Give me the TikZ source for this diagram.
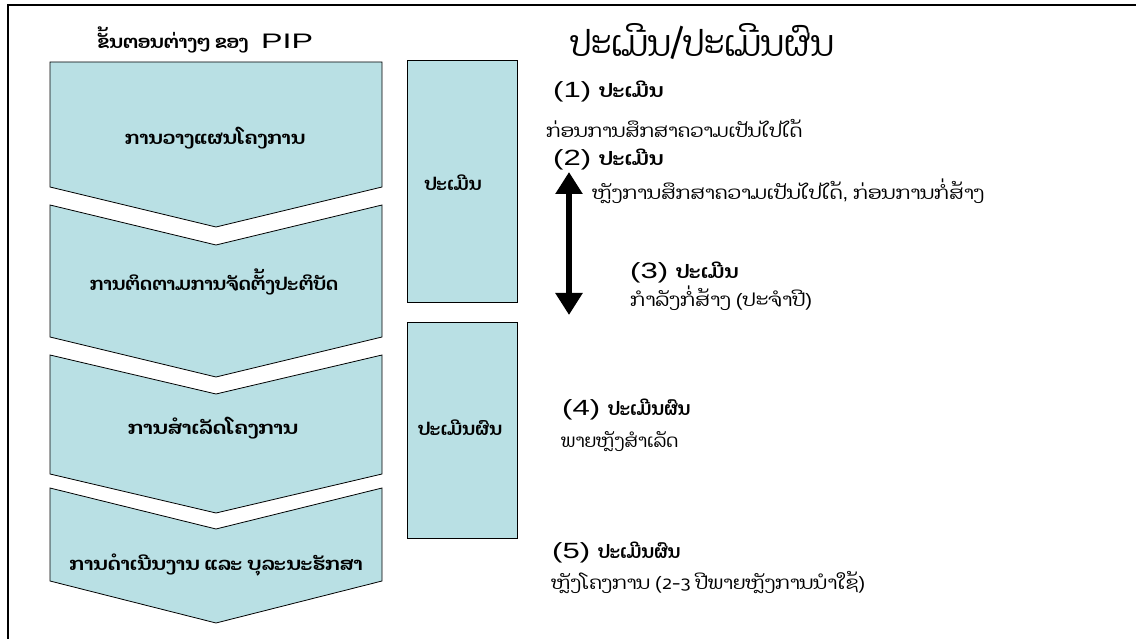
\documentclass[tikz,border=0pt]{standalone}
\usepackage{fontspec}
\usepackage{graphicx}
\setmainfont{Liberation Sans}
\newfontfamily\lao[Script=Lao]{Dhyana}
\usetikzlibrary{arrows.meta}
\definecolor{chev}{RGB}{185,224,228}
\newcommand{\fitw}[2]{\resizebox{#1}{\height}{#2}}
\newcommand{\laob}{\lao\bfseries\fontsize{18}{21}\selectfont}
\newcommand{\laor}{\lao\fontsize{18}{21}\selectfont}
\newcommand{\hd}[3]{\fitw{38pt}{\fontsize{22}{26}\selectfont(#1)}\hspace{8pt}\fitw{#3}{\lao\bfseries\fontsize{19}{22}\selectfont #2}}
\tikzset{
  chevshape/.style={draw=black,fill=chev,line width=0.8pt},
  chevtext/.style={font=\laob,anchor=center,inner sep=0pt},
  boxtext/.style={font=\laob,anchor=center,inner sep=0pt},
  headtext/.style={anchor=west,inner sep=0pt},
  subtext/.style={anchor=west,inner sep=0pt,font=\laor},
  evalbox/.style={draw=black,fill=chev,line width=0.8pt,inner sep=0pt,minimum width=110pt,anchor=north west},
  bigarrow/.style={line width=6pt,{Triangle[width=26pt,length=22pt]}-{Triangle[width=26pt,length=22pt]}}
}
\begin{document}
\begin{tikzpicture}[x=1pt,y=-1pt]
\useasboundingbox (0,0) rectangle (1136,639);
% frame
\draw[line width=1.5pt] (1136,5) -- (8,5) -- (8,639);
% titles
\node[inner sep=0pt,anchor=west] (ltitle) at (97,40)
  {\fitw{151pt}{\laob ຂັ້ນຕອນຕ່າງໆ ຂອງ}\hspace{13pt}\fitw{52pt}{\fontsize{21}{24}\selectfont PIP}};
\node[inner sep=0pt,anchor=west] (rtitle) at (570,42) {\fitw{264pt}{\lao\fontsize{36}{42}\selectfont ປະເມີນ/ປະເມີນຜົນ}};
% chevrons
\path[chevshape] (50,62) -- (382,62) -- (382,187) -- (216,227) -- (50,187) -- cycle;
\path[chevshape] (50,205) -- (216,245) -- (382,205) -- (382,337) -- (216,377) -- (50,337) -- cycle;
\path[chevshape] (50,355) -- (216,394) -- (382,355) -- (382,474) -- (216,513) -- (50,474) -- cycle;
\path[chevshape] (50,488) -- (216,529) -- (382,488) -- (382,581) -- (216,623) -- (50,581) -- cycle;
\node[chevtext] (c1) at (215,138) {\fitw{180pt}{ການວາງແຜນໂຄງການ}};
\node[chevtext] (c2) at (214,282) {\fitw{248pt}{ການຕິດຕາມການຈັດຕັ້ງປະຕິບັດ}};
\node[chevtext] (c3) at (213,428) {\fitw{170pt}{ການສຳເລັດໂຄງການ}};
\node[chevtext] (c4) at (216,565) {\fitw{293pt}{ການດຳເນີນງານ ແລະ ບຸລະນະຮັກສາ}};
% evaluation boxes
\node[evalbox,minimum height=242pt] (b1) at (407,60) {};
\node[boxtext] (b1t) at (453,183) {\fitw{57pt}{ປະເມີນ}};
\node[evalbox,minimum height=216pt] (b2) at (407,322) {};
\node[boxtext] (b2t) at (460,428) {\fitw{84pt}{ປະເມີນຜົນ}};
% arrow
\coordinate (atop) at (569,172);
\coordinate (abot) at (569,315);
\draw[bigarrow] (atop) -- (abot);
% right texts
\node[headtext] (h1) at (553,92) {\hd{1}{ປະເມີນ}{64pt}};
\node[subtext] (s1) at (546,128) {\fitw{256pt}{ກ່ອນການສຶກສາຄວາມເປັນໄປໄດ້}};
\node[headtext] (h2) at (553,160) {\hd{2}{ປະເມີນ}{64pt}};
\node[subtext] (s2) at (592,191) {\fitw{392pt}{ຫຼັງການສຶກສາຄວາມເປັນໄປໄດ້{\rmfamily,} ກ່ອນການກໍ່ສ້າງ}};
\node[headtext] (h3) at (630,273) {\hd{3}{ປະເມີນ}{62pt}};
\node[subtext] (s3) at (630,298) {\fitw{182pt}{ກຳລັງກໍ່ສ້າງ {\rmfamily(}ປະຈຳປີ{\rmfamily)}}};
\node[headtext] (h4) at (562,410) {\hd{4}{ປະເມີນຜົນ}{82pt}};
\node[subtext] (s4) at (561,442) {\fitw{117pt}{ພາຍຫຼັງສຳເລັດ}};
\node[headtext] (h5) at (552,553) {\hd{5}{ປະເມີນຜົນ}{82pt}};
\node[subtext] (s5) at (551,583) {\fitw{314pt}{ຫຼັງໂຄງການ {\rmfamily(}2-3 ປີພາຍຫຼັງການນຳໃຊ້{\rmfamily)}}};
\end{tikzpicture}
\end{document}
